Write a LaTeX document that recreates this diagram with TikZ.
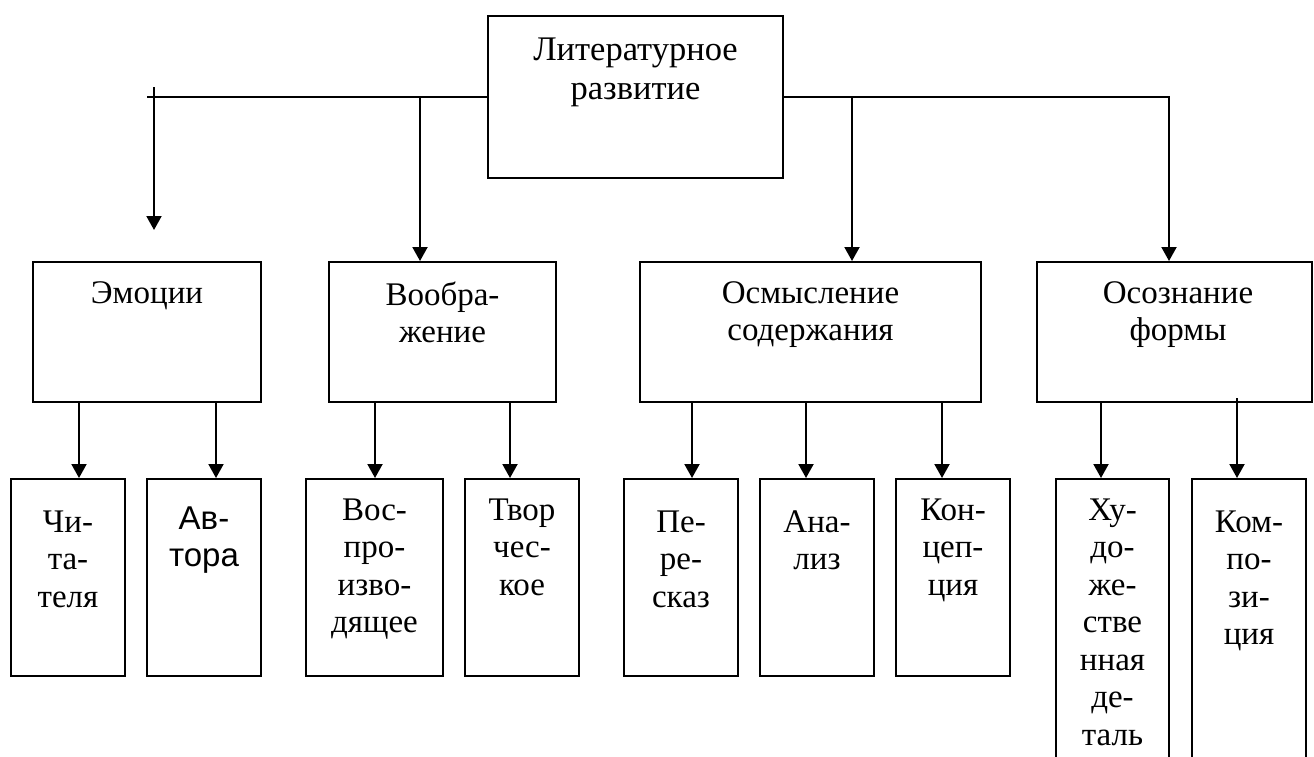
\documentclass[tikz,border=0pt]{standalone}
\usepackage{fontspec}
\setmainfont{Liberation Serif}
\newfontfamily\arialfont{Liberation Sans}
\usetikzlibrary{arrows.meta}
\tikzset{
  box/.style={draw, line width=2pt, inner sep=0pt, rectangle},
  lbl/.style={align=center, inner sep=0pt, anchor=north, font=\fontsize{33}{37.5}\selectfont},
  toplbl/.style={align=center, inner sep=0pt, anchor=north, font=\fontsize{34.5}{39.5}\selectfont},
  arr/.style={line width=2pt, -{Triangle[width=15pt,length=14pt]}},
  ln/.style={line width=2pt}
}
\begin{document}
\begin{tikzpicture}[x=1pt,y=-1pt]
\useasboundingbox (0,0) rectangle (1314,756);
\fill[white] (0,0) rectangle (1314,756);
\clip (0,0) rectangle (1314,756);

% top
\node[box, minimum width=295pt, minimum height=162pt] (top) at (635.5,97) {};
\node[toplbl] (toptxt) at (635.5,37.5) {Литературное\\развитие};

% second row
\node[box, minimum width=228pt, minimum height=140pt] (emo) at (147,332) {};
\node[box, minimum width=227pt, minimum height=140pt] (imag) at (442.5,332) {};
\node[box, minimum width=341pt, minimum height=140pt] (sense) at (810.5,332) {};
\node[box, minimum width=275pt, minimum height=140pt] (form) at (1174.5,332) {};
\node[lbl] (emotxt) at (147,281.4) {Эмоции};
\node[lbl] (imagtxt) at (442.5,281.4) {Вообра-\\жение};
\node[lbl] (sensetxt) at (810.5,281.4) {Осмысление\\содержания};
\node[lbl] (formtxt) at (1178,281.4) {Осознание\\формы};

% third row
\node[box, minimum width=114pt, minimum height=197pt] (chit) at (68,577.5) {};
\node[box, minimum width=114pt, minimum height=197pt] (avt) at (204,577.5) {};
\node[box, minimum width=137pt, minimum height=197pt] (vosp) at (374.5,577.5) {};
\node[box, minimum width=114pt, minimum height=197pt] (tvor) at (522,577.5) {};
\node[box, minimum width=114pt, minimum height=197pt] (peres) at (681,577.5) {};
\node[box, minimum width=114pt, minimum height=197pt] (anal) at (817,577.5) {};
\node[box, minimum width=114pt, minimum height=197pt] (konc) at (953,577.5) {};
\node[box, minimum width=113pt, minimum height=321pt] (hud) at (1112.5,639.5) {};
\node[box, minimum width=114pt, minimum height=321pt] (komp) at (1249,639.5) {};

\node[lbl] (chittxt) at (68,510.4) {Чи-\\та-\\теля};
\node[lbl, font=\arialfont\fontsize{33}{37.5}\selectfont] (avttxt) at (204,506.4) {Ав-\\тора};
\node[lbl] (vosptxt) at (374.5,498.4) {Вос-\\про-\\изво-\\дящее};
\node[lbl] (tvortxt) at (522,498.4) {Твор\\чес-\\кое};
\node[lbl] (perestxt) at (681,510.4) {Пе-\\ре-\\сказ};
\node[lbl] (analtxt) at (817,510.4) {Ана-\\лиз};
\node[lbl] (konctxt) at (953,498.4) {Кон-\\цеп-\\ция};
\node[lbl] (hudtxt) at (1112.5,498.4) {Ху-\\до-\\же-\\стве\\нная\\де-\\таль};
\node[lbl] (komptxt) at (1249,510.4) {Ком-\\по-\\зи-\\ция};

% top connectors
\coordinate (lend) at (147,97);
\coordinate (tick) at (154,87);
\coordinate (emotip) at (154,230);
\coordinate (j1) at (420,97);
\coordinate (j2) at (852,97);
\coordinate (j3) at (1169,97);
\draw[ln] (top.west) -- (lend);
\draw[arr] (tick) -- (emotip);
\draw[arr] (j1) -- (j1 |- imag.north);
\draw[arr] (j2) -- (j2 |- sense.north);
\draw[arr] (top.east) -- (j3) -- (j3 |- form.north);

% lower connectors
\draw[arr] (emo.south -| 79,0) -- (chit.north -| 79,0);
\draw[arr] (emo.south -| 216,0) -- (avt.north -| 216,0);
\draw[arr] (imag.south -| 375,0) -- (vosp.north -| 375,0);
\draw[arr] (imag.south -| 510,0) -- (tvor.north -| 510,0);
\draw[arr] (sense.south -| 692,0) -- (peres.north -| 692,0);
\draw[arr] (sense.south -| 806,0) -- (anal.north -| 806,0);
\draw[arr] (sense.south -| 942,0) -- (konc.north -| 942,0);
\draw[arr] (form.south -| 1101,0) -- (hud.north -| 1101,0);
\draw[arr] ([yshift=5pt]form.south -| 1237,0) -- (komp.north -| 1237,0);
\end{tikzpicture}
\end{document}
